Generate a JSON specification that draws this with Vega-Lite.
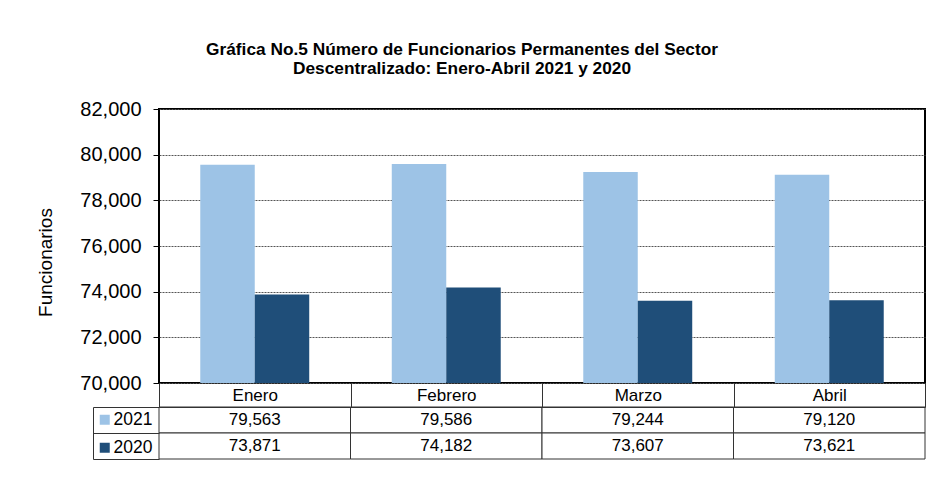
{
  "$schema": "https://vega.github.io/schema/vega-lite/v6.json",
  "background": "white",
  "padding": {"left": 35, "top": 39, "right": 10, "bottom": 20},
  "config": {"font": "Liberation Sans", "view": {"stroke": null}},
  "bounds": "flush",
  "spacing": 24,
  "datasets": {
    "d": [
      {"mes": "Enero", "anio": "2021", "valor": 79563},
      {"mes": "Febrero", "anio": "2021", "valor": 79586},
      {"mes": "Marzo", "anio": "2021", "valor": 79244},
      {"mes": "Abril", "anio": "2021", "valor": 79120},
      {"mes": "Enero", "anio": "2020", "valor": 73871},
      {"mes": "Febrero", "anio": "2020", "valor": 74182},
      {"mes": "Marzo", "anio": "2020", "valor": 73607},
      {"mes": "Abril", "anio": "2020", "valor": 73621}
    ]
  },
  "vconcat": [
    {
      "width": 766,
      "height": 274,
      "data": {"name": "d"},
      "title": {
        "text": ["Gráfica No.5 Número de Funcionarios Permanentes del Sector", "Descentralizado: Enero-Abril 2021 y 2020"],
        "fontSize": 17.3,
        "fontWeight": "bold",
        "color": "#000",
        "anchor": "middle",
        "dx": -80,
        "offset": 22,
        "lineHeight": 19
      },
      "view": {"stroke": "#000", "strokeWidth": 2},
      "mark": {"type": "bar", "clip": true},
      "encoding": {
        "x": {
          "field": "mes", "type": "nominal",
          "sort": ["Enero", "Febrero", "Marzo", "Abril"],
          "scale": {"paddingInner": 0.431, "paddingOuter": 0.2155},
          "axis": null
        },
        "xOffset": {"field": "anio", "type": "nominal", "sort": ["2021", "2020"]},
        "y": {
          "field": "valor", "type": "quantitative",
          "scale": {"domain": [70000, 82000], "zero": false, "nice": false},
          "axis": {
            "values": [70000, 72000, 74000, 76000, 78000, 80000, 82000],
            "format": ",.0f",
            "title": "Funcionarios",
            "titleFontSize": 19,
            "titleFontWeight": "normal",
            "titleColor": "#000",
            "titleX": -104,
            "titleY": 153,
            "labelFontSize": 20,
            "labelColor": "#000",
            "labelPadding": 12,
            "tickSize": 6,
            "tickColor": "#000",
            "domain": false,
            "grid": true,
            "gridColor": "#555",
            "gridDash": [2, 1],
            "gridWidth": 1
          }
        },
        "color": {
          "field": "anio", "type": "nominal",
          "scale": {"domain": ["2021", "2020"], "range": ["#9DC3E6", "#1F4E79"]},
          "legend": {
            "orient": "none",
            "legendX": -63,
            "legendY": 302,
            "title": null,
            "symbolType": "square",
            "symbolSize": 100,
            "symbolStrokeWidth": 0,
            "symbolOpacity": 1,
            "labelFontSize": 17.5,
            "labelColor": "#000",
            "labelOffset": 0,
            "rowPadding": 9,
            "padding": 0
          }
        }
      }
    },
    {
      "width": 766,
      "height": 52,
      "data": {"name": "d"},
      "encoding": {
        "x": {
          "field": "mes", "type": "nominal",
          "sort": ["Enero", "Febrero", "Marzo", "Abril"],
          "scale": {"padding": 0},
          "axis": {
            "orient": "top",
            "title": null,
            "tickBand": "extent",
            "tickSize": 24,
            "tickColor": "#333",
            "domainColor": "#333",
            "labelFontSize": 17,
            "labelColor": "#000",
            "labelPadding": -12,
            "labelBaseline": "middle",
            "labelAngle": 0
          }
        },
        "y": {
          "field": "anio", "type": "nominal",
          "sort": ["2021", "2020"],
          "scale": {"padding": 0},
          "axis": {
            "title": null,
            "labels": false,
            "tickBand": "extent",
            "tickSize": -66,
            "offset": 66,
            "tickColor": "#333",
            "domainColor": "#333"
          }
        }
      },
      "layer": [
        {"mark": {"type": "rect", "fill": "white", "stroke": "#333", "strokeWidth": 1}},
        {
          "mark": {"type": "text", "fontSize": 17, "color": "#000"},
          "encoding": {"text": {"field": "valor", "type": "quantitative", "format": ","}}
        }
      ]
    }
  ]
}
